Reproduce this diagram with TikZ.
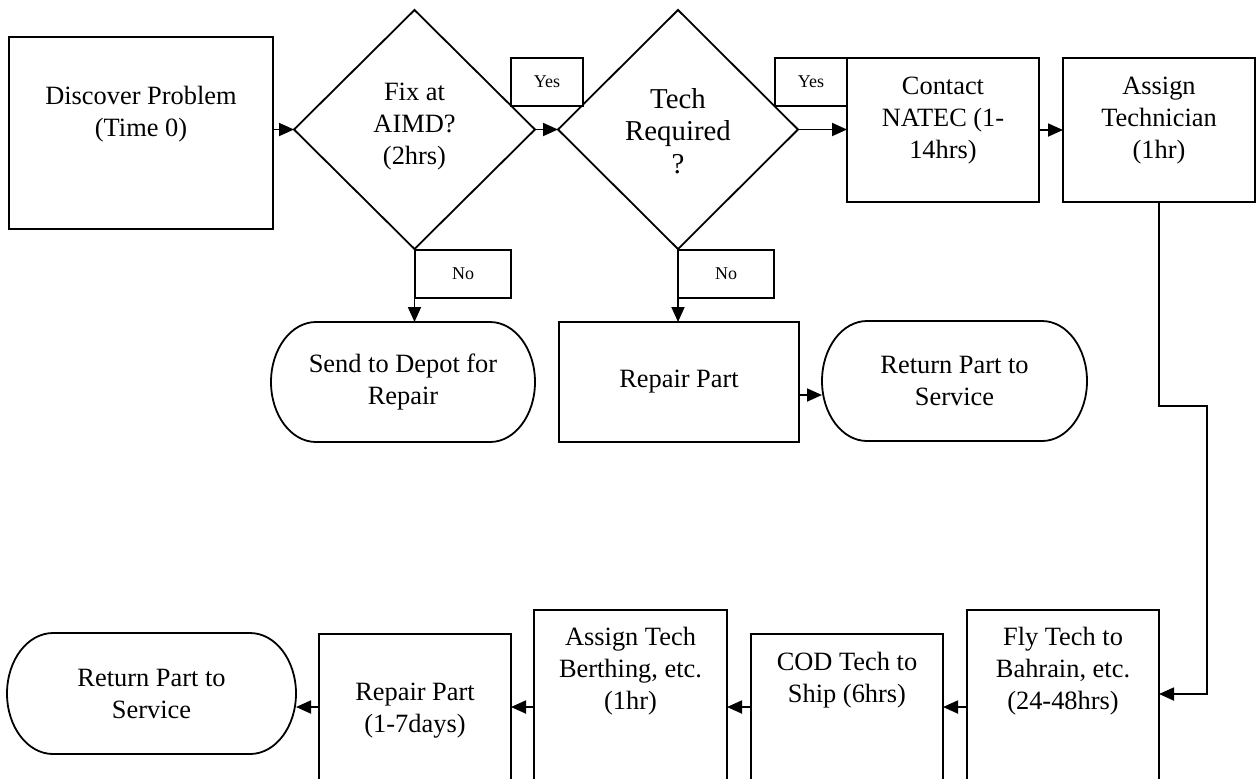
\documentclass[tikz,border=0pt]{standalone}
\usepackage{fontspec}
\setmainfont{Liberation Serif}
\usetikzlibrary{arrows.meta,shapes.geometric}

% Flowchart looks: plain black outlines, Word-style filled arrow tips
\tikzset{
  flow/.style={draw=black, line width=0.9pt},
  arr/.style={flow, -{Triangle[length=7.5pt,width=6.5pt]}},
  box/.style={flow, rectangle, inner sep=0pt, outer sep=0pt, fill=white,
              align=center, font=\fontsize{13.2}{16}\selectfont},
  tag/.style={box, font=\fontsize{9}{11}\selectfont},
  decision/.style={flow, diamond, inner sep=0pt, outer sep=0pt},
  frame/.style={rectangle, inner sep=0pt, outer sep=0pt, align=center,
                font=\fontsize{13.2}{16}\selectfont},
  txt/.style={align=center, inner sep=0pt, font=\fontsize{13.2}{16}\selectfont},
  bigtxt/.style={align=center, inner sep=0pt, font=\fontsize{14.4}{16.3}\selectfont},
}

% Terminator outline (straight top/bottom, elliptical ends) around a node
\newcommand\terminatorline[3]{%
  \draw[flow] ([xshift=#2]#1.north west) -- ([xshift=-#2]#1.north east)
    arc[start angle=90, end angle=-90, x radius=#2, y radius=#3]
    -- ([xshift=#2]#1.south west)
    arc[start angle=270, end angle=90, x radius=#2, y radius=#3] -- cycle;}

\begin{document}
\begin{tikzpicture}[x=0.5pt, y=-0.5pt]
\useasboundingbox (0,0) rectangle (1257,778);
\clip (0,0) rectangle (1257,778);

% ---- top row ----
\node[box, minimum width=132pt, minimum height=96pt] (disc) at (141,133) {};
\node[txt] (disc-t) at (141,114) {Discover Problem\\(Time 0)};

\node[decision, minimum width=120.5pt, minimum height=119.5pt] (d1) at (414.5,129.5) {};
\node[txt] (d1-t) at (414.5,127) {Fix at\\AIMD?\\(2hrs)};

\node[decision, minimum width=120pt, minimum height=119.5pt] (d2) at (678,129.5) {};
\node[bigtxt] (d2-t) at (678,131) {Tech\\Required\\?};

\node[box, minimum width=96pt, minimum height=72pt] (contact) at (943,130) {};
\node[txt] (contact-t) at (943,120.5) {Contact\\NATEC (1-\\14hrs)};

\node[box, minimum width=96pt, minimum height=72pt] (assign) at (1159,130) {};
\node[txt] (assign-t) at (1159,120.5) {Assign\\Technician\\(1hr)};

% ---- middle row ----
\node[frame, minimum width=132pt, minimum height=60pt] (send) at (403,382) {Send to Depot for\\Repair};
\terminatorline{send}{22.5pt}{30pt}

\node[box, minimum width=120pt, minimum height=60pt] (repairA) at (679,382) {Repair Part};

\node[frame, minimum width=132.5pt, minimum height=60pt] (returnA) at (954.5,381) {Return Part to\\Service};
\terminatorline{returnA}{22.5pt}{30pt}

% ---- bottom row ----
\node[box, minimum width=96pt, minimum height=97pt] (fly) at (1063,707) {};
\node[txt] (fly-t) at (1063,671.5) {Fly Tech to\\Bahrain, etc.\\(24-48hrs)};

\node[box, minimum width=96pt, minimum height=73pt] (cod) at (847,707) {};
\node[txt] (cod-t) at (847,680.5) {COD Tech to\\Ship (6hrs)};

\node[box, minimum width=96.5pt, minimum height=97pt] (techB) at (630.5,707) {};
\node[txt] (techB-t) at (630.5,671.5) {Assign Tech\\Berthing, etc.\\(1hr)};

\node[box, minimum width=96pt, minimum height=73pt] (repairB) at (415,707) {};
\node[txt] (repairB-t) at (415,711) {Repair Part\\(1-7days)};

\node[frame, minimum width=144.5pt, minimum height=60.5pt] (returnB) at (151.5,693.5) {Return Part to\\Service};
\terminatorline{returnB}{23pt}{30.25pt}

% ---- connectors ----
\draw[arr] (disc.east |- d1.west) -- (d1.west);
\draw[arr] (d1.east) -- (d2.west);
\draw[arr] (d2.east) -- (d2.east -| contact.west);
\draw[arr] (contact.east) -- (assign.west);
\draw[arr] (d1.south) -- (d1.south |- send.north);
\draw[arr] (d2.south) -- (d2.south |- repairA.north);
\draw[arr] ([yshift=-6.5pt]repairA.east) -- ([yshift=-6.5pt]repairA.east -| returnA.west);

\coordinate (bendA) at (1207,406);
\coordinate (bendB) at (1207,694);
\draw[arr] (assign.south) |- (bendA) -- (bendB) -- (bendB -| fly.east);

\draw[arr] (fly.west) -- (cod.east);
\draw[arr] (cod.west) -- (techB.east);
\draw[arr] (techB.west) -- (repairB.east);
\draw[arr] (repairB.west) -- (repairB.west -| returnB.east);

% ---- branch labels ----
\node[tag, minimum width=36pt, minimum height=24pt] (yes1) at (547,82) {Yes};
\node[tag, minimum width=36pt, minimum height=24pt] (yes2) at (811,82) {Yes};
\node[tag, minimum width=48pt, minimum height=24pt] (no1) at (463,274) {No};
\node[tag, minimum width=48pt, minimum height=24pt] (no2) at (726,274) {No};
\end{tikzpicture}
\end{document}
